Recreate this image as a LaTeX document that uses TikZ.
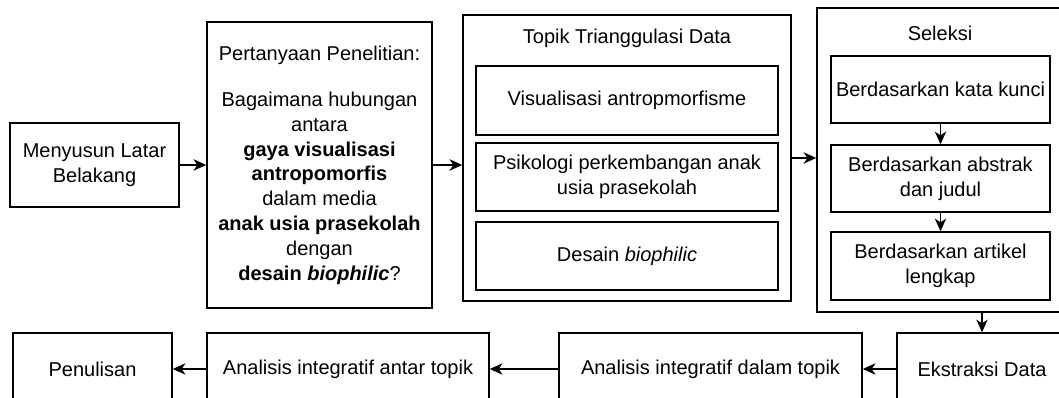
\documentclass[tikz,border=0pt]{standalone}
\usepackage{fontspec}
\setmainfont{Liberation Sans}
\usetikzlibrary{arrows.meta}
\begin{document}
\begin{tikzpicture}[x=0.75pt,y=-0.75pt,
  box/.style={draw=black,line width=1.1pt,fill=white,inner sep=0pt,align=center,
    font=\fontsize{15}{18.6}\selectfont},
  sz/.style 2 args={minimum width=#1*0.75pt,minimum height=#2*0.75pt},
  title/.style={inner sep=0pt,font=\fontsize{15}{18.6}\selectfont},
  arr/.style={line width=1.1pt,-{Stealth[length=9.5pt,width=8.5pt,inset=2.8pt]}}]
\clip (0,0) rectangle (1059,398);
\fill[white] (0,0) rectangle (1059,398);
% top row
\node[box,sz={169}{84}] (latar) at (94.5,165) {Menyusun Latar\\Belakang};
\node[box,sz={225}{286}] (tanya) at (319.5,165)
  {Pertanyaan Penelitian:\\[16pt]Bagaimana hubungan\\antara\\\textbf{gaya visualisasi}\\\textbf{antropomorfis}\\dalam media\\\textbf{anak usia prasekolah}\\dengan\\\textbf{desain \textit{biophilic}}?};
\node[box,sz={328}{286}] (topik) at (627,158) {};
\node[title] (topiktitle) at (627,38) {Topik Trianggulasi Data};
\node[box,sz={302}{69}] (vis) at (627,100.5) {Visualisasi antropmorfisme};
\node[box,sz={302}{68}] (psi) at (627,177) {Psikologi perkembangan anak\\usia prasekolah};
\node[box,sz={302}{68}] (bio) at (627,256) {Desain \textit{biophilic}};
\node[box,sz={246}{304}] (sel) at (940,160) {};
\node[title] (seltitle) at (940,33) {Seleksi};
\node[box,sz={219}{67}] (kunci) at (940.5,89.5) {Berdasarkan kata kunci};
\node[box,sz={219}{67}] (abs) at (940.5,178.5) {Berdasarkan abstrak\\dan judul};
\node[box,sz={219}{68}] (art) at (940.5,266) {Berdasarkan artikel\\lengkap};
% bottom row
\node[box,sz={170}{72}] (eks) at (982,369) {Ekstraksi Data};
\node[box,sz={303}{72}] (dalam) at (710.5,369) {Analisis integratif dalam topik};
\node[box,sz={282}{72}] (antar) at (348,369) {Analisis integratif antar topik};
\node[box,sz={159}{72}] (tulis) at (92.5,369) {Penulisan};
% connectors
\draw[arr] (latar.east) -- (tanya.west);
\draw[arr] (tanya.east) -- (tanya.east -| topik.west);
\draw[arr] (topik.east) -- (topik.east -| sel.west);
\draw[arr] (kunci.south) -- (abs.north);
\draw[arr] (abs.south) -- (art.north);
\draw[arr] (eks.north |- sel.south) -- (eks.north);
\draw[arr] (eks.west) -- (dalam.east);
\draw[arr] (dalam.west) -- (antar.east);
\draw[arr] (antar.west) -- (tulis.east);
\end{tikzpicture}
\end{document}
